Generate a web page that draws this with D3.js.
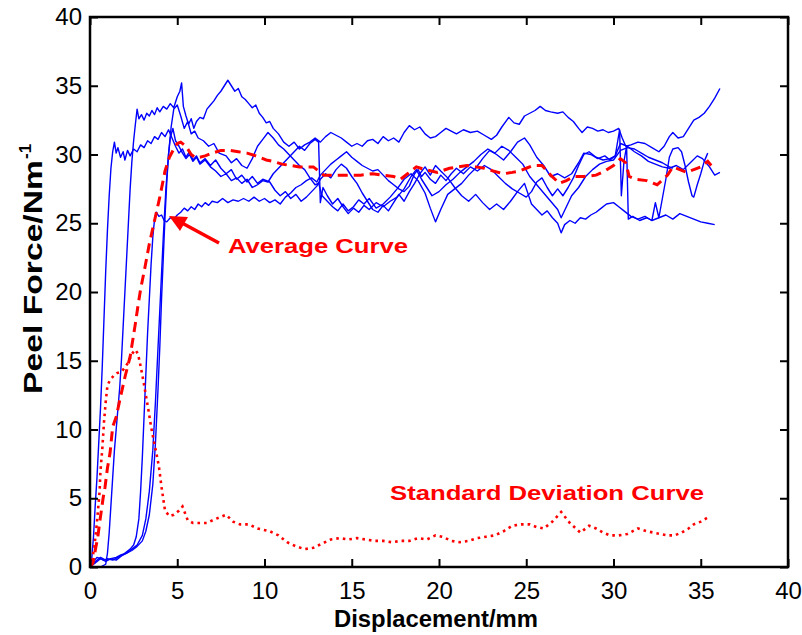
<!DOCTYPE html>
<html>
<head>
<meta charset="utf-8">
<script src="https://cdn.jsdelivr.net/npm/d3@7"></script>
<style>
	body { margin: 0; background: #fff; }
	text { font-family: "Liberation Sans", Arial, sans-serif; }
</style>
</head>
<body>
<div id="chart"></div>
<script>
// Peel tests: [displacement (mm), peel force (N/m)]
let curveA = [[0,0],[0.1,0.6],[0.2,2.2],[0.3,4.5],[0.4,6.5],[0.5,9],[0.6,11.5],[0.7,14.5],[0.8,18],[0.9,21.5],[1.0,24.5],[1.1,27],[1.2,29],[1.3,30.2],[1.4,30.9],[1.5,30.1],[1.6,30.5],[1.75,29.8],[1.9,30.2],[2.0,29.6],[2.15,30.3],[2.3,29.9],[2.5,30.4],[2.7,30.2],[2.9,30.7],[3.1,30.5],[3.3,31.0],[3.5,30.8],[3.7,31.3],[3.9,31.1],[4.1,31.6],[4.3,31.3],[4.5,31.8],[4.7,31.2],[4.9,30.6],[5.1,30.1],[5.3,30.4],[5.5,29.8],[5.7,30.2],[5.9,29.6],[6.1,29.9],[6.3,29.4],[6.6,29.7],[6.9,29.2],[7.2,29.6],[7.5,29.0],[7.8,28.6],[8.1,28.9],[8.4,28.2],[8.7,28.5],[9.0,28.0],[9.3,28.4],[9.6,27.9],[9.9,28.2],[10.3,28.0],[10.6,27.4],[10.9,27.0],[11.2,27.3],[11.5,26.8],[11.8,27.1],[12.1,26.6],[12.4,26.9],[12.7,27.3],[13.0,27.7],[13.2,28.2],[13.5,28.6],[13.8,28.3],[14.1,28.9],[14.4,29.3],[14.7,29.0],[15.0,28.4],[15.3,27.9],[15.6,27.2],[15.9,26.6],[16.2,26.0],[16.5,25.8],[16.8,26.3],[17.1,25.9],[17.4,26.5],[17.7,27.1],[18.0,26.6],[18.3,27.3],[18.6,27.9],[18.9,28.6],[19.2,29.1],[19.5,28.5],[19.8,29.2],[20.1,28.8],[20.5,28.3],[20.9,27.6],[21.3,27.0],[21.7,26.6],[22.1,27.1],[22.5,26.5],[22.9,26.0],[23.3,26.4],[23.7,26.0],[24.1,26.6],[24.5,27.3],[24.9,27.9],[25.3,26.4],[25.6,26.0],[25.9,25.6],[26.2,25.9],[26.5,25.4],[26.8,25.0],[27.0,24.3],[27.2,24.9],[27.5,25.2],[27.8,25.0],[28.1,25.4],[28.4,25.3],[28.7,25.6],[29.0,25.8],[29.3,26.1],[29.6,26.4],[30.0,26.5],[30.3,26.2],[30.6,25.9],[31.0,25.5],[31.4,25.3],[31.8,25.5],[32.2,25.2],[32.6,25.4],[33.0,25.6],[33.4,25.3],[33.8,25.7],[34.2,25.5],[34.6,25.3],[35.0,25.1],[35.4,25.0],[35.8,24.9]];

let curveB = [[0,0],[0.6,0],[0.9,0.2],[1.0,1.0],[1.1,2.5],[1.2,4.5],[1.3,6.5],[1.4,8.5],[1.5,10],[1.6,11.5],[1.7,13],[1.8,15],[1.9,17.5],[2.0,20],[2.1,22.5],[2.2,25],[2.3,27.5],[2.4,29.5],[2.5,31],[2.6,32.2],[2.7,33.3],[2.8,32.6],[2.95,32.9],[3.1,32.5],[3.25,33.0],[3.4,32.8],[3.55,33.2],[3.7,32.9],[3.85,33.4],[4.0,33.1],[4.2,33.5],[4.4,33.3],[4.6,33.7],[4.8,33.4],[5.0,34.2],[5.15,34.6],[5.25,35.2],[5.35,33.5],[5.5,32.8],[5.65,32.2],[5.8,32.6],[5.95,31.9],[6.1,32.4],[6.3,32.7],[6.5,32.6],[6.7,33.3],[6.9,33.6],[7.1,33.9],[7.3,34.3],[7.5,34.6],[7.7,35.0],[7.9,35.4],[8.1,35.0],[8.3,34.6],[8.5,34.8],[8.7,34.2],[8.9,34.0],[9.1,33.7],[9.3,33.4],[9.5,33.6],[9.7,33.0],[9.9,32.7],[10.1,32.3],[10.3,32.4],[10.5,31.9],[10.8,31.5],[11.1,30.9],[11.4,30.6],[11.7,30.9],[12.0,30.4],[12.3,30.7],[12.6,30.9],[12.9,31.2],[13.2,30.9],[13.5,31.3],[13.8,31.6],[14.1,31.4],[14.4,31.2],[14.7,30.9],[15.0,30.6],[15.3,30.8],[15.6,30.6],[15.9,31.0],[16.2,31.1],[16.5,30.8],[16.8,31.3],[17.1,31.0],[17.4,31.2],[17.7,30.9],[18.0,31.6],[18.3,32.1],[18.6,31.8],[18.9,32.0],[19.2,31.5],[19.5,31.2],[19.8,31.3],[20.1,31.6],[20.4,31.9],[20.7,31.7],[21.0,31.5],[21.4,31.8],[21.8,31.6],[22.2,31.7],[22.6,31.4],[23.0,31.1],[23.3,31.4],[23.6,32.0],[24.0,32.7],[24.3,32.3],[24.6,32.2],[24.9,32.8],[25.2,33.0],[25.5,33.2],[25.8,33.5],[26.1,33.2],[26.4,33.1],[26.8,33.0],[27.1,33.1],[27.4,32.7],[27.7,32.4],[28.0,31.9],[28.2,31.6],[28.5,32.0],[28.8,31.9],[29.1,31.7],[29.4,31.8],[29.7,31.6],[30.0,31.7],[30.3,31.9],[30.5,31.2],[30.7,30.6],[31.0,30.7],[31.4,30.9],[31.8,30.8],[32.2,30.5],[32.6,30.2],[32.9,30.6],[33.2,31.3],[33.4,31.6],[33.7,31.2],[34.0,31.3],[34.3,31.9],[34.6,32.5],[34.9,32.7],[35.2,33.0],[35.5,33.5],[35.8,34.1],[36.1,34.8]];

let curveC = [[0,0],[0.3,0.4],[0.6,0.7],[0.9,0.5],[1.2,0.6],[1.5,0.5],[1.8,0.8],[2.1,1.0],[2.4,1.3],[2.7,1.6],[3.0,2.3],[3.2,3.5],[3.4,5.5],[3.6,8.5],[3.75,12],[3.9,16],[4.05,20],[4.2,24],[4.35,27.5],[4.5,30],[4.65,32],[4.8,33.3],[5.0,33.6],[5.2,32.8],[5.4,31.9],[5.6,32.4],[5.8,31.5],[6.0,31.7],[6.2,31.2],[6.5,31.0],[6.8,30.6],[7.1,30.8],[7.4,30.1],[7.8,29.9],[8.1,29.4],[8.4,29.7],[8.7,29.2],[9.0,29.0],[9.3,29.7],[9.6,30.6],[9.9,31.1],[10.2,31.6],[10.5,31.2],[10.8,30.7],[11.1,30.4],[11.4,30.0],[11.7,29.6],[12.0,29.2],[12.3,28.9],[12.6,28.3],[12.9,27.8],[13.1,27.9],[13.3,27.0],[13.6,26.6],[13.9,26.2],[14.2,25.9],[14.5,26.4],[14.8,25.9],[15.1,26.2],[15.4,26.7],[15.7,26.4],[16.0,26.8],[16.4,26.1],[16.8,26.4],[17.2,26.9],[17.6,27.5],[18.0,28.2],[18.4,28.6],[18.8,28.1],[19.2,27.2],[19.5,26.1],[19.8,25.1],[20.1,26.0],[20.5,27.1],[20.9,27.5],[21.3,27.9],[21.7,28.5],[22.1,29.0],[22.5,29.7],[22.9,30.3],[23.3,30.0],[23.7,29.6],[24.1,30.2],[24.5,30.9],[24.9,31.2],[25.2,30.7],[25.6,29.8],[26.0,29.2],[26.4,28.4],[26.8,28.6],[27.2,28.3],[27.6,28.6],[28.0,29.4],[28.3,30.1],[28.7,30.0],[29.1,29.7],[29.5,29.9],[29.8,29.6],[30.1,29.9],[30.4,30.8],[30.8,30.6],[31.2,30.2],[31.6,29.9],[32.0,29.5],[32.4,29.3],[32.8,29.1],[33.2,29.0],[33.6,29.2],[34.0,28.9],[34.4,29.4],[34.8,29.9],[35.1,29.7],[35.5,29.1],[35.8,28.5],[36.1,28.7]];

let curveD = [[0,0],[0.2,0.4],[0.4,0.7],[0.6,0.6],[0.8,0.5],[1.0,0.6],[1.3,0.5],[1.6,0.7],[1.9,0.9],[2.1,1.1],[2.3,1.3],[2.5,1.6],[2.65,2.2],[2.8,3.5],[2.9,5.5],[3.0,8],[3.1,11],[3.2,14],[3.3,17],[3.4,19.5],[3.5,22],[3.6,24],[3.7,25.3],[3.8,25.8],[3.95,25.5],[4.1,25.6],[4.25,25.2],[4.4,25.1],[4.6,25.4],[4.8,25.3],[5.0,25.6],[5.2,25.8],[5.4,26.1],[5.6,25.9],[5.8,26.2],[6.0,26.0],[6.2,26.4],[6.4,26.2],[6.6,26.5],[6.8,26.3],[7.0,26.6],[7.3,26.5],[7.6,26.8],[7.9,26.5],[8.2,26.7],[8.5,26.6],[8.8,26.8],[9.1,26.6],[9.4,26.9],[9.7,26.6],[10.0,26.8],[10.3,26.5],[10.6,26.7],[10.9,26.4],[11.2,26.9],[11.5,27.2],[11.8,27.6],[12.1,27.8],[12.4,28.1],[12.7,28.3],[13.0,28.0],[13.2,28.5],[13.5,28.9],[13.8,29.3],[14.1,29.6],[14.4,29.9],[14.7,30.2],[15.0,29.8],[15.3,29.5],[15.6,29.2],[15.9,29.0],[16.2,28.8],[16.5,28.9],[16.8,28.5],[17.1,28.1],[17.4,27.8],[17.7,27.5],[18.0,27.3],[18.3,27.7],[18.6,28.6],[18.8,28.9],[19.0,28.4],[19.2,28.7],[19.5,28.2],[19.8,27.9],[20.1,28.5],[20.4,28.1],[20.7,28.6],[21.0,29.0],[21.4,28.6],[21.8,29.1],[22.2,28.8],[22.6,29.2],[23.0,28.9],[23.4,28.4],[23.8,27.9],[24.2,27.5],[24.6,27.2],[25.0,26.9],[25.3,27.3],[25.6,28.0],[25.9,28.3],[26.2,27.6],[26.5,27.0],[26.8,27.5],[27.1,27.0],[27.4,27.6],[27.7,28.3],[28.0,29.2],[28.3,30.0],[28.6,30.2],[29.0,29.8],[29.4,29.6],[29.8,29.7],[30.1,29.9],[30.35,31.8],[30.45,27.0],[30.6,29.5],[30.75,30.6],[30.85,25.3],[31.1,25.5],[31.5,25.2],[31.9,25.4],[32.2,25.2],[32.4,26.5],[32.6,25.4],[32.8,26.8],[33.0,28.2],[33.2,29.8],[33.4,30.4],[33.7,30.5],[33.9,30.2],[34.1,29.2],[34.3,28.0],[34.5,27.0],[34.6,26.9],[34.8,27.8],[35.0,28.6],[35.2,29.5],[35.4,30.1]];

let curveE = [[0,0],[0.3,0.3],[0.6,0.6],[0.9,0.4],[1.2,0.6],[1.5,0.7],[1.8,0.9],[2.1,1.0],[2.4,1.2],[2.7,1.5],[3.0,1.9],[3.2,2.6],[3.4,3.8],[3.6,6],[3.75,9],[3.9,13],[4.0,16],[4.1,19.5],[4.2,22.5],[4.3,25.5],[4.4,28],[4.5,30],[4.6,31.2],[4.75,31.9],[4.9,31.0],[5.1,30.6],[5.3,30.1],[5.5,29.7],[5.7,30.0],[5.9,29.5],[6.1,29.8],[6.3,29.3],[6.6,29.6],[6.9,29.1],[7.2,28.8],[7.5,28.4],[7.8,28.6],[8.1,28.1],[8.4,28.3],[8.7,27.9],[9.0,28.2],[9.3,27.6],[9.6,27.8],[9.9,28.1],[10.2,28.0],[10.5,28.6],[10.8,29.0],[11.1,29.4],[11.4,29.8],[11.7,30.2],[12.0,30.6],[12.3,30.3],[12.6,30.8],[12.9,31.1],[13.1,30.9],[13.2,26.5],[13.35,27.6],[13.6,27.0],[13.9,26.4],[14.2,26.8],[14.5,26.2],[14.8,25.7],[15.1,26.1],[15.4,25.8],[15.7,26.3],[16.0,26.0],[16.4,26.5],[16.8,26.2],[17.2,26.6],[17.6,26.9],[18.0,27.5],[18.4,28.4],[18.7,28.9],[19.0,28.2],[19.3,27.6],[19.6,27.0],[20.0,27.3],[20.4,27.8],[20.8,28.2],[21.2,28.7],[21.6,29.1],[22.0,29.5],[22.4,30.0],[22.8,30.4],[23.2,30.1],[23.6,30.6],[24.0,30.3],[24.4,29.8],[24.8,29.3],[25.2,28.4],[25.6,27.8],[26.0,27.2],[26.4,26.6],[26.8,26.0],[27.0,25.4],[27.3,26.2],[27.6,27.0],[28.0,27.6],[28.4,28.4],[28.8,28.9],[29.2,29.3],[29.6,29.5],[30.0,29.6],[30.4,30.3],[30.8,30.5],[31.2,30.4],[31.6,30.1],[32.0,29.8],[32.4,29.6],[32.8,29.4],[33.2,29.1],[33.4,29.0]];

let averageCurve = [[0,0],[0.17,0.3],[0.3,1.2],[0.45,2.2],[0.55,3.2],[0.65,4.1],[0.75,5],[0.86,5.8],[1.0,7.2],[1.15,8.3],[1.3,10.2],[1.5,10.9],[1.7,12.1],[2.0,13.8],[2.3,15.3],[2.6,17.7],[2.75,19.0],[2.9,20.2],[3.15,21.8],[3.4,23.5],[3.7,25.2],[4.0,26.9],[4.3,28.8],[4.55,29.8],[4.8,30.4],[5.0,30.8],[5.2,30.9],[5.4,30.7],[5.6,30.4],[5.8,30.0],[6.0,29.8],[6.3,29.8],[6.6,29.9],[7.0,30.1],[7.5,30.3],[8.0,30.3],[8.5,30.2],[9.0,30.1],[9.5,29.9],[10.1,29.6],[10.5,29.5],[11.0,29.3],[11.5,29.2],[12.0,29.1],[12.8,29.1],[13.4,28.5],[14.0,28.5],[14.9,28.5],[15.5,28.5],[16.2,28.6],[16.8,28.5],[17.4,28.4],[17.8,28.2],[18.2,28.6],[18.7,29.1],[19.2,28.9],[19.9,28.7],[20.6,29.0],[21.1,29.1],[21.6,29.2],[22.1,29.1],[22.6,29.0],[23.1,28.8],[23.7,28.6],[24.2,28.7],[24.6,28.8],[25.0,29.0],[25.4,29.2],[25.9,29.2],[26.4,28.5],[26.9,27.9],[27.3,28.1],[27.7,28.4],[28.3,28.4],[29.0,28.5],[29.5,28.8],[30.0,29.2],[30.4,29.7],[30.7,29.4],[30.9,28.4],[31.3,28.2],[31.9,28.1],[32.5,27.8],[33.1,28.5],[33.4,29.1],[33.8,28.9],[34.2,28.7],[34.6,28.9],[35.0,29.1],[35.4,29.5],[35.6,29.2]];

let stdCurve = [[0,0],[0.1,0.3],[0.25,1.5],[0.35,2.6],[0.45,4],[0.55,5.5],[0.6,7],[0.7,8.5],[0.8,10.5],[0.9,12],[1.0,13.2],[1.15,13.6],[1.35,13.9],[1.55,14.1],[1.8,14.2],[2.0,14.5],[2.2,14.9],[2.4,15.5],[2.6,15.8],[2.75,15.5],[2.9,14.6],[3.05,13.6],[3.2,12.5],[3.35,11.4],[3.5,10.2],[3.65,9.2],[3.8,8.3],[3.95,7.3],[4.1,5.8],[4.3,4.1],[4.55,3.7],[4.8,3.8],[5.1,4.1],[5.3,4.4],[5.6,3.4],[5.9,3.2],[6.3,3.2],[6.7,3.2],[7.2,3.5],[7.8,3.8],[8.2,3.3],[8.6,3.1],[9.1,3.1],[9.6,2.8],[10.3,2.6],[10.8,2.3],[11.3,1.8],[11.8,1.5],[12.3,1.3],[12.8,1.4],[13.3,1.7],[13.8,2.0],[14.3,2.1],[14.8,2.0],[15.3,2.1],[15.8,2.0],[16.3,1.9],[16.8,1.9],[17.3,1.8],[17.8,1.9],[18.3,1.9],[18.8,2.1],[19.3,2.0],[19.8,2.3],[20.2,2.2],[20.7,1.9],[21.2,1.8],[21.7,1.9],[22.2,2.1],[22.7,2.2],[23.2,2.3],[23.7,2.6],[24.2,3.0],[24.7,3.1],[25.2,3.1],[25.6,2.9],[26.0,2.8],[26.5,3.3],[27.0,4.0],[27.5,3.2],[28.1,2.5],[28.6,3.0],[29.0,2.8],[29.4,2.5],[29.8,2.3],[30.3,2.3],[30.8,2.4],[31.4,2.8],[31.9,2.6],[32.3,2.5],[32.7,2.4],[33.1,2.3],[33.5,2.3],[33.9,2.5],[34.3,2.8],[34.6,3.1],[35.0,3.3],[35.4,3.6]];

let xTicks = [0, 5, 10, 15, 20, 25, 30, 35, 40];
let yTicks = [0, 5, 10, 15, 20, 25, 30, 35, 40];

let width = 802;
let height = 635;
let L = 90, R = 788, T = 17, B = 567; // plot box

let svg = d3.select('#chart').append('svg')
		.attr('width', width)
		.attr('height', height);

svg.append('rect').attr('width', width).attr('height', height).attr('fill', '#fff');

let xScale = d3.scaleLinear().domain([0, 40]).range([L, R]);
let yScale = d3.scaleLinear().domain([0, 40]).range([B, T]);

let line = d3.line()
		.x(d => xScale(d[0]))
		.y(d => yScale(d[1]));

// Individual test curves
[curveA, curveB, curveC, curveD, curveE].forEach(c => {
	svg.append('path')
			.datum(c)
			.attr('d', line)
			.attr('fill', 'none')
			.attr('stroke', '#0000ff')
			.attr('stroke-width', 1.4)
			.attr('stroke-linejoin', 'round');
});

// Average (dashed) and standard deviation (dotted)
svg.append('path')
		.datum(averageCurve)
		.attr('d', line)
		.attr('fill', 'none')
		.attr('stroke', '#ff0000')
		.attr('stroke-width', 3)
		.attr('stroke-dasharray', '10,6');

svg.append('path')
		.datum(stdCurve)
		.attr('d', line)
		.attr('fill', 'none')
		.attr('stroke', '#ff0000')
		.attr('stroke-width', 2.6)
		.attr('stroke-dasharray', '2.6,4');

// Axes, ticks on all four sides pointing inward
let fontSize = 24;
svg.append('g')
		.attr('transform', `translate(0, ${B})`)
		.call(d3.axisBottom(xScale).tickValues(xTicks).tickSizeInner(-8).tickSizeOuter(0).tickPadding(15));
svg.append('g')
		.attr('transform', `translate(${L}, 0)`)
		.call(d3.axisLeft(yScale).tickValues(yTicks).tickSizeInner(-8).tickSizeOuter(0).tickPadding(8));
svg.append('g')
		.attr('transform', `translate(0, ${T})`)
		.call(d3.axisTop(xScale).tickValues(xTicks).tickSizeInner(-8).tickSizeOuter(0).tickFormat(''));
svg.append('g')
		.attr('transform', `translate(${R}, 0)`)
		.call(d3.axisRight(yScale).tickValues(yTicks).tickSizeInner(-8).tickSizeOuter(0).tickFormat(''));

svg.selectAll('.domain').remove();
svg.selectAll('.tick line').attr('stroke', '#000').attr('stroke-width', 2);
svg.selectAll('.tick text')
		.attr('fill', '#000')
		.style('font-size', fontSize + 'px')
		.style('font-family', '"Liberation Sans", Arial, sans-serif');

svg.append('rect')
		.attr('x', L).attr('y', T)
		.attr('width', R - L).attr('height', B - T)
		.attr('fill', 'none')
		.attr('stroke', '#000')
		.attr('stroke-width', 2.5);

// Axis labels
svg.append('text')
		.text('Displacement/mm')
		.attr('x', 334)
		.attr('y', 627)
		.attr('textLength', 204)
		.attr('lengthAdjust', 'spacingAndGlyphs')
		.attr('font-weight', 'bold')
		.style('font-size', '23px');

svg.append('text')
		.text('Peel Force/Nm')
		.attr('transform', 'translate(42, 394) rotate(-90)')
		.attr('textLength', 234)
		.attr('lengthAdjust', 'spacingAndGlyphs')
		.attr('font-weight', 'bold')
		.style('font-size', '25px');
svg.append('text')
		.text('-1')
		.attr('transform', 'translate(31, 159) rotate(-90)')
		.attr('font-weight', 'bold')
		.style('font-size', '17px');

// Annotations
svg.append('text')
		.text('Average Curve')
		.attr('x', 228).attr('y', 253)
		.attr('textLength', 180)
		.attr('lengthAdjust', 'spacingAndGlyphs')
		.attr('fill', '#ff0000')
		.attr('font-weight', 'bold')
		.style('font-size', '21px');

svg.append('line')
		.attr('x1', 219).attr('y1', 243)
		.attr('x2', 182).attr('y2', 223)
		.attr('stroke', '#ff0000')
		.attr('stroke-width', 3.5);
svg.append('path')
		.attr('d', 'M169,216 L188,217 L180,231 Z')
		.attr('fill', '#ff0000');

svg.append('text')
		.text('Standard Deviation Curve')
		.attr('x', 390).attr('y', 500)
		.attr('textLength', 314)
		.attr('lengthAdjust', 'spacingAndGlyphs')
		.attr('fill', '#ff0000')
		.attr('font-weight', 'bold')
		.style('font-size', '21px');
</script>
</body>
</html>
